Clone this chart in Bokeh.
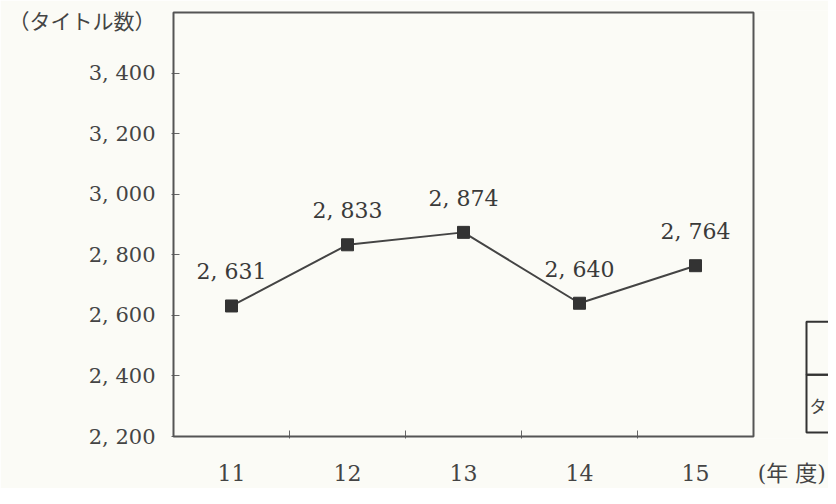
from bokeh.plotting import figure
from bokeh.models import FixedTicker, Label, ColumnDataSource, Range1d, BoxAnnotation
from bokeh.core.properties import value
from bokeh.embed import file_html
from bokeh.resources import INLINE

# data
years = ["11", "12", "13", "14", "15"]
titles = [2631, 2833, 2874, 2640, 2764]
y_ticks = [2200, 2400, 2600, 2800, 3000, 3200, 3400]
y_axis_title = "（タイトル数）"
x_axis_title = "(年 度)"
side_table_text = "タ"

def fmt(v):
    return f"{v:,}".replace(",", ", ")

xs = list(range(len(years)))
src = ColumnDataSource(dict(x=xs, y=titles, lab=[fmt(v) for v in titles]))

BG = "#fbfbf6"
INK = "#3a3a3a"
FRAME = "#555555"
SERIF = "DejaVu Serif"
MIXED = "DejaVu Serif, 'Noto Sans CJK JP'"

# plot box: categories -0.5..4.5, values 2200..3600; the frame is a little larger so that
# texts beside the box (year unit, neighbouring table) can be drawn inside it
X_LO, X_HI = -0.5, len(years) - 0.5
Y_LO, Y_HI = 2200, 3600
px_x = 116.0                    # pixels per category
px_y = 425.0 / (Y_HI - Y_LO)    # pixels per title
pad = 2

p = figure(width=828, height=488, output_backend="svg", toolbar_location=None,
           x_range=Range1d(X_LO - pad / px_x, X_HI + 75 / px_x),
           y_range=Range1d(Y_LO - pad / px_y, Y_HI + pad / px_y),
           min_border_left=171, min_border_right=0, min_border_top=10, min_border_bottom=49)
p.background_fill_color = BG
p.border_fill_color = BG
p.outline_line_color = None
p.xgrid.visible = False
p.ygrid.visible = False

# visible plot box
p.add_layout(BoxAnnotation(left=X_LO, right=X_HI, bottom=Y_LO, top=Y_HI,
                           fill_color=None, line_color=FRAME, line_alpha=1.0, line_width=2))

# y axis: labels (plus the unit title) on major ticks, inward marks as minor ticks
p.yaxis.ticker = FixedTicker(ticks=y_ticks + [3567], minor_ticks=y_ticks)
p.yaxis.major_label_overrides = {**{t: fmt(t) for t in y_ticks}, 3567: y_axis_title}
p.yaxis.major_tick_in = 0
p.yaxis.major_tick_out = 0
p.yaxis.minor_tick_in = 8
p.yaxis.minor_tick_out = 0
p.yaxis.minor_tick_line_color = "#666666"
p.yaxis.axis_line_color = None
p.yaxis.major_label_standoff = 16
p.yaxis.major_label_text_font = MIXED
p.yaxis.major_label_text_font_size = "21px"
p.yaxis.major_label_text_color = "#444444"

# x axis
p.xaxis.ticker = FixedTicker(ticks=xs + [4.83], minor_ticks=[i + 0.5 for i in xs[:-1]])
p.xaxis.major_label_overrides = {**{i: y for i, y in zip(xs, years)}, 4.83: x_axis_title}
p.xaxis.major_tick_in = 0
p.xaxis.major_tick_out = 0
p.xaxis.minor_tick_in = 8
p.xaxis.minor_tick_out = 0
p.xaxis.minor_tick_line_color = "#666666"
p.xaxis.major_label_standoff = 22
p.xaxis.axis_line_color = None
p.xaxis.major_label_text_font = MIXED
p.xaxis.major_label_text_font_size = "22px"
p.xaxis.major_label_text_color = "#444444"

# series
p.line("x", "y", source=src, line_width=2, line_color="#444444")
p.scatter("x", "y", source=src, marker="square", size=12, fill_color="#333333", line_color="#333333")
p.text("x", "y", text="lab", source=src, text_align="center", text_baseline="middle",
       y_offset=-34, text_font=value(SERIF), text_font_size="22px", text_color=INK)

# fragment of a neighbouring table at the right edge
tl = X_HI + 53 / px_x
tr = X_HI + 120 / px_x
p.add_layout(BoxAnnotation(left=tl, right=tr, bottom=Y_LO + 4 / px_y, top=Y_LO + 62 / px_y,
                           fill_color=None, line_color="#333333", line_alpha=1.0, line_width=2))
p.add_layout(BoxAnnotation(left=tl, right=tr, bottom=Y_LO + 62 / px_y, top=Y_LO + 115 / px_y,
                           fill_color=None, line_color="#333333", line_alpha=1.0, line_width=2))
p.add_layout(Label(x=tl + 3 / px_x, y=Y_LO + 31 / px_y, text=side_table_text,
                   text_align="left", text_baseline="middle",
                   text_font="Noto Sans CJK JP", text_font_size="17px", text_color="#444444"))

open("out.html", "w").write(file_html(p, INLINE))
